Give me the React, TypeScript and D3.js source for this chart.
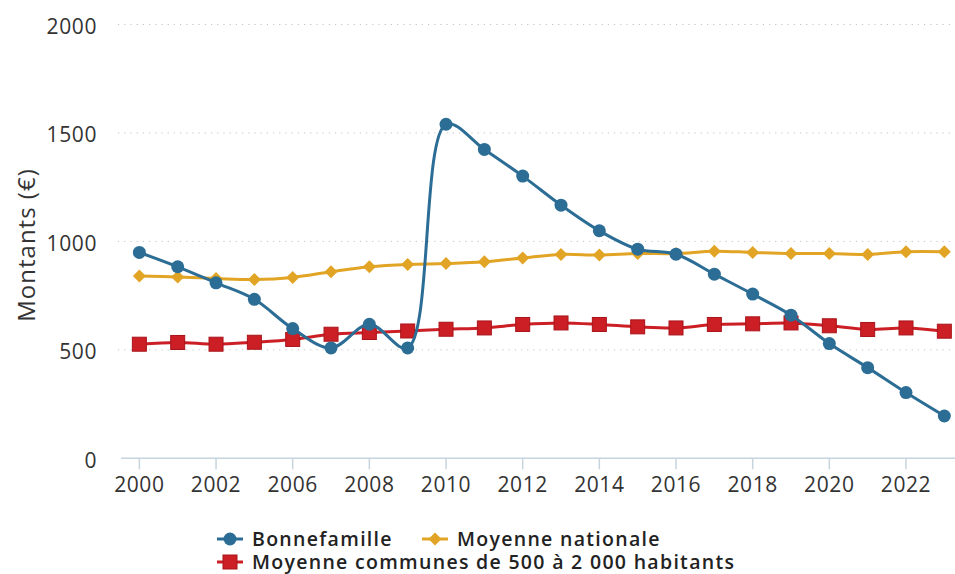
import React, { useEffect, useRef } from "react";
import * as d3 from "d3";

const years = [
  "2000", "2001", "2002", "2004", "2006", "2007", "2008", "2009", "2010", "2011", "2012",
  "2013", "2014", "2015", "2016", "2017", "2018", "2019", "2020", "2021", "2022", "2023"
];
const tickYears = ["2000", "2002", "2006", "2008", "2010", "2012", "2014", "2016", "2018", "2020", "2022"];
const yTicks = [0, 500, 1000, 1500, 2000];

const bonnefamille = [
  949, 883, 809, 733, 598, 509, 618, 509, 1540, 1424, 1301,
  1167, 1049, 964, 941, 849, 757, 660, 529, 418, 303, 195
];
const moyenneNationale = [
  840, 836, 829, 824, 834, 860, 883, 894, 898, 906, 924,
  940, 937, 944, 944, 955, 949, 944, 944, 940, 952, 952
];
const moyenneCommunes = [
  526, 534, 526, 535, 548, 572, 580, 587, 595, 601, 617,
  624, 617, 606, 601, 617, 620, 624, 611, 594, 601, 586
];

const W = 955;
const H = 574;
const FONT = "'Open Sans', sans-serif";

const series = [
  { name: "Moyenne nationale", values: moyenneNationale, color: "#e2a424", shape: "diamond" },
  { name: "Moyenne communes de 500 à 2 000 habitants", values: moyenneCommunes, color: "#cc1f25", shape: "square" },
  { name: "Bonnefamille", values: bonnefamille, color: "#2c6d95", shape: "circle" }
];

function drawMarker(g: any, shape: string, color: string, x: number, y: number) {
  if (shape === "circle") {
    g.append("circle").attr("cx", x).attr("cy", y).attr("r", 6.5).attr("fill", color);
  } else if (shape === "square") {
    g.append("rect")
      .attr("x", x - 7).attr("y", y - 7).attr("width", 14).attr("height", 14)
      .attr("fill", color).attr("stroke", "#a8141a").attr("stroke-width", 1);
  } else {
    g.append("path")
      .attr("d", `M${x},${y - 6.5}L${x + 6.5},${y}L${x},${y + 6.5}L${x - 6.5},${y}Z`)
      .attr("fill", color);
  }
}

export default function App() {
  const svgRef = useRef<SVGSVGElement>(null);

  useEffect(() => {
    const svg = d3.select(svgRef.current);
    svg.selectAll("*").remove();

    const x = d3.scalePoint().domain(years).range([120.2, 963.5]).padding(0.5);
    const y = d3.scaleLinear().domain([0, 2000]).range([458.3, 24.5]);

    // grid
    svg.append("g")
      .selectAll("line")
      .data(yTicks.filter(d => d > 0))
      .enter()
      .append("line")
      .attr("x1", 118)
      .attr("x2", W)
      .attr("y1", d => y(d))
      .attr("y2", d => y(d))
      .attr("stroke", "#c4c4c4")
      .attr("stroke-width", 1)
      .attr("stroke-dasharray", "1.2,5");

    // y labels
    svg.append("g")
      .selectAll("text")
      .data(yTicks)
      .enter()
      .append("text")
      .attr("x", 97)
      .attr("y", d => y(d) + 2)
      .attr("dy", "0.35em")
      .attr("text-anchor", "end")
      .attr("font-family", FONT)
      .attr("font-size", 21)
      .attr("letter-spacing", 0.6)
      .attr("fill", "#333")
      .text(d => d);

    svg.append("text")
      .attr("transform", "translate(27,245) rotate(-90)")
      .attr("dy", "0.35em")
      .attr("text-anchor", "middle")
      .attr("font-family", FONT)
      .attr("font-size", 24)
      .attr("letter-spacing", 1)
      .attr("fill", "#333")
      .text("Montants (€)");

    // x axis
    const xAxis = svg.append("g");
    xAxis.append("line")
      .attr("x1", 121).attr("x2", W)
      .attr("y1", y(0)).attr("y2", y(0))
      .attr("stroke", "#c6d4de").attr("stroke-width", 1.5);
    xAxis.selectAll("line.tick")
      .data(tickYears)
      .enter()
      .append("line")
      .attr("class", "tick")
      .attr("x1", d => x(d)!).attr("x2", d => x(d)!)
      .attr("y1", y(0)).attr("y2", y(0) + 11)
      .attr("stroke", "#c6d4de").attr("stroke-width", 1.5);
    xAxis.selectAll("text")
      .data(tickYears)
      .enter()
      .append("text")
      .attr("x", d => x(d)!)
      .attr("y", 485)
      .attr("dy", "0.35em")
      .attr("text-anchor", "middle")
      .attr("font-family", FONT)
      .attr("font-size", 21)
      .attr("letter-spacing", 0.6)
      .attr("fill", "#333")
      .text(d => d);

    // lines
    const line = d3.line<number>()
      .x((d, i) => x(years[i])!)
      .y(d => y(d))
      .curve(d3.curveCatmullRom.alpha(0.5));

    series.forEach(s => {
      const g = svg.append("g");
      g.append("path")
        .datum(s.values)
        .attr("d", line)
        .attr("fill", "none")
        .attr("stroke", s.color)
        .attr("stroke-width", 3);
      s.values.forEach((v, i) => drawMarker(g, s.shape, s.color, x(years[i])!, y(v)));
    });

    // legend
    const legend = [
      { s: series[2], lx: 217, ly: 539 },
      { s: series[0], lx: 422, ly: 539 },
      { s: series[1], lx: 217, ly: 562 }
    ];
    legend.forEach(({ s, lx, ly }) => {
      const g = svg.append("g");
      g.append("line")
        .attr("x1", lx).attr("x2", lx + 26)
        .attr("y1", ly).attr("y2", ly)
        .attr("stroke", s.color).attr("stroke-width", 3);
      drawMarker(g, s.shape, s.color, lx + 13, ly);
      g.append("text")
        .attr("x", lx + 35)
        .attr("y", ly)
        .attr("dy", "0.35em")
        .attr("font-family", FONT)
        .attr("font-size", 19.5)
        .attr("font-weight", 600)
        .attr("letter-spacing", 1.3)
        .attr("fill", "#222")
        .text(s.name);
    });
  }, []);

  return (
    <svg
      ref={svgRef}
      width={W}
      height={H}
      style={{ position: "absolute", left: 0, top: 0, background: "#fff" }}
    />
  );
}
